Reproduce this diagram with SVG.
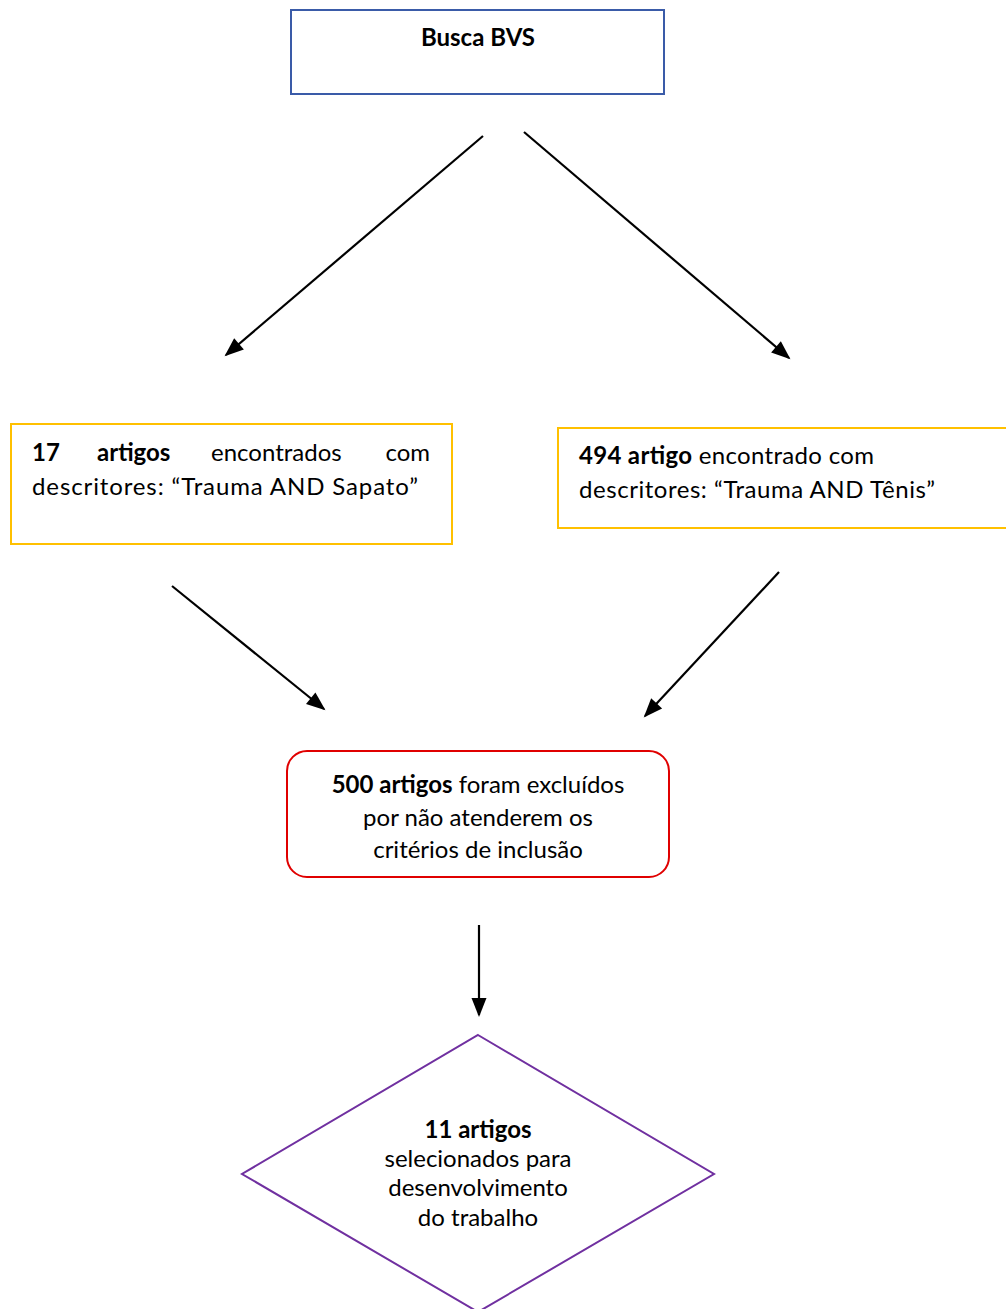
<svg xmlns="http://www.w3.org/2000/svg" width="1006" height="1309" viewBox="0 0 1006 1309">
<defs>
<style>
text{font-family:Lato,"Open Sans","Liberation Sans",sans-serif;font-size:24px;fill:#000}
.b{font-weight:bold}
.c{text-anchor:middle}
.con line{stroke:#000;stroke-width:2.2}
</style>
<marker id="ah" viewBox="0 0 10 10" refX="9" refY="5" markerWidth="19" markerHeight="15" preserveAspectRatio="none" markerUnits="userSpaceOnUse" orient="auto" style="overflow:visible">
<path d="M0,0 L10,5 L0,10 z" fill="#000"/>
</marker>
</defs>
<rect width="1006" height="1309" fill="#fff"/>
<g id="busca">
<rect x="291" y="10" width="373" height="84" fill="#fff" stroke="#3A5BA8" stroke-width="2"/>
<text x="478" y="46" class="c b">Busca BVS</text>
</g>
<g id="sapato">
<rect x="11" y="424" width="441" height="120" fill="#fff" stroke="#FFC000" stroke-width="2"/>
<text x="32" y="461" class="b">17</text>
<text x="97" y="461" class="b">artigos</text>
<text x="211" y="461">encontrados</text>
<text x="430" y="461" style="text-anchor:end">com</text>
<text x="32" y="495" textLength="386" lengthAdjust="spacing">descritores: “Trauma AND Sapato”</text>
</g>
<g id="tenis">
<rect x="558" y="428" width="460" height="100" fill="#fff" stroke="#FFC000" stroke-width="2"/>
<text x="579" y="464" textLength="295" lengthAdjust="spacing"><tspan class="b">494 artigo</tspan> encontrado com</text>
<text x="579" y="498" textLength="356" lengthAdjust="spacing">descritores: “Trauma AND Tênis”</text>
</g>
<g id="excluidos">
<rect x="287" y="751" width="382" height="126" rx="20" fill="#fff" stroke="#E00000" stroke-width="2"/>
<text x="478" y="793" class="c"><tspan class="b">500 artigos</tspan> foram excluídos</text>
<text x="478" y="826" class="c">por não atenderem os</text>
<text x="478" y="858" class="c">critérios de inclusão</text>
</g>
<g id="selecionados">
<polygon points="478,1035 714,1174 478,1312 242,1174" fill="#fff" stroke="#7030A0" stroke-width="2"/>
<text x="478" y="1138" class="c b">11 artigos</text>
<text x="478" y="1167" class="c">selecionados para</text>
<text x="478" y="1196" class="c">desenvolvimento</text>
<text x="478" y="1226" class="c">do trabalho</text>
</g>
<g id="connectors" class="con">
<line x1="483" y1="136" x2="226" y2="355" marker-end="url(#ah)"/>
<line x1="524" y1="132" x2="789" y2="358" marker-end="url(#ah)"/>
<line x1="172" y1="586" x2="324" y2="709" marker-end="url(#ah)"/>
<line x1="779" y1="572" x2="645" y2="716" marker-end="url(#ah)"/>
<line x1="479" y1="925" x2="479" y2="1015" marker-end="url(#ah)"/>
</g>
</svg>
